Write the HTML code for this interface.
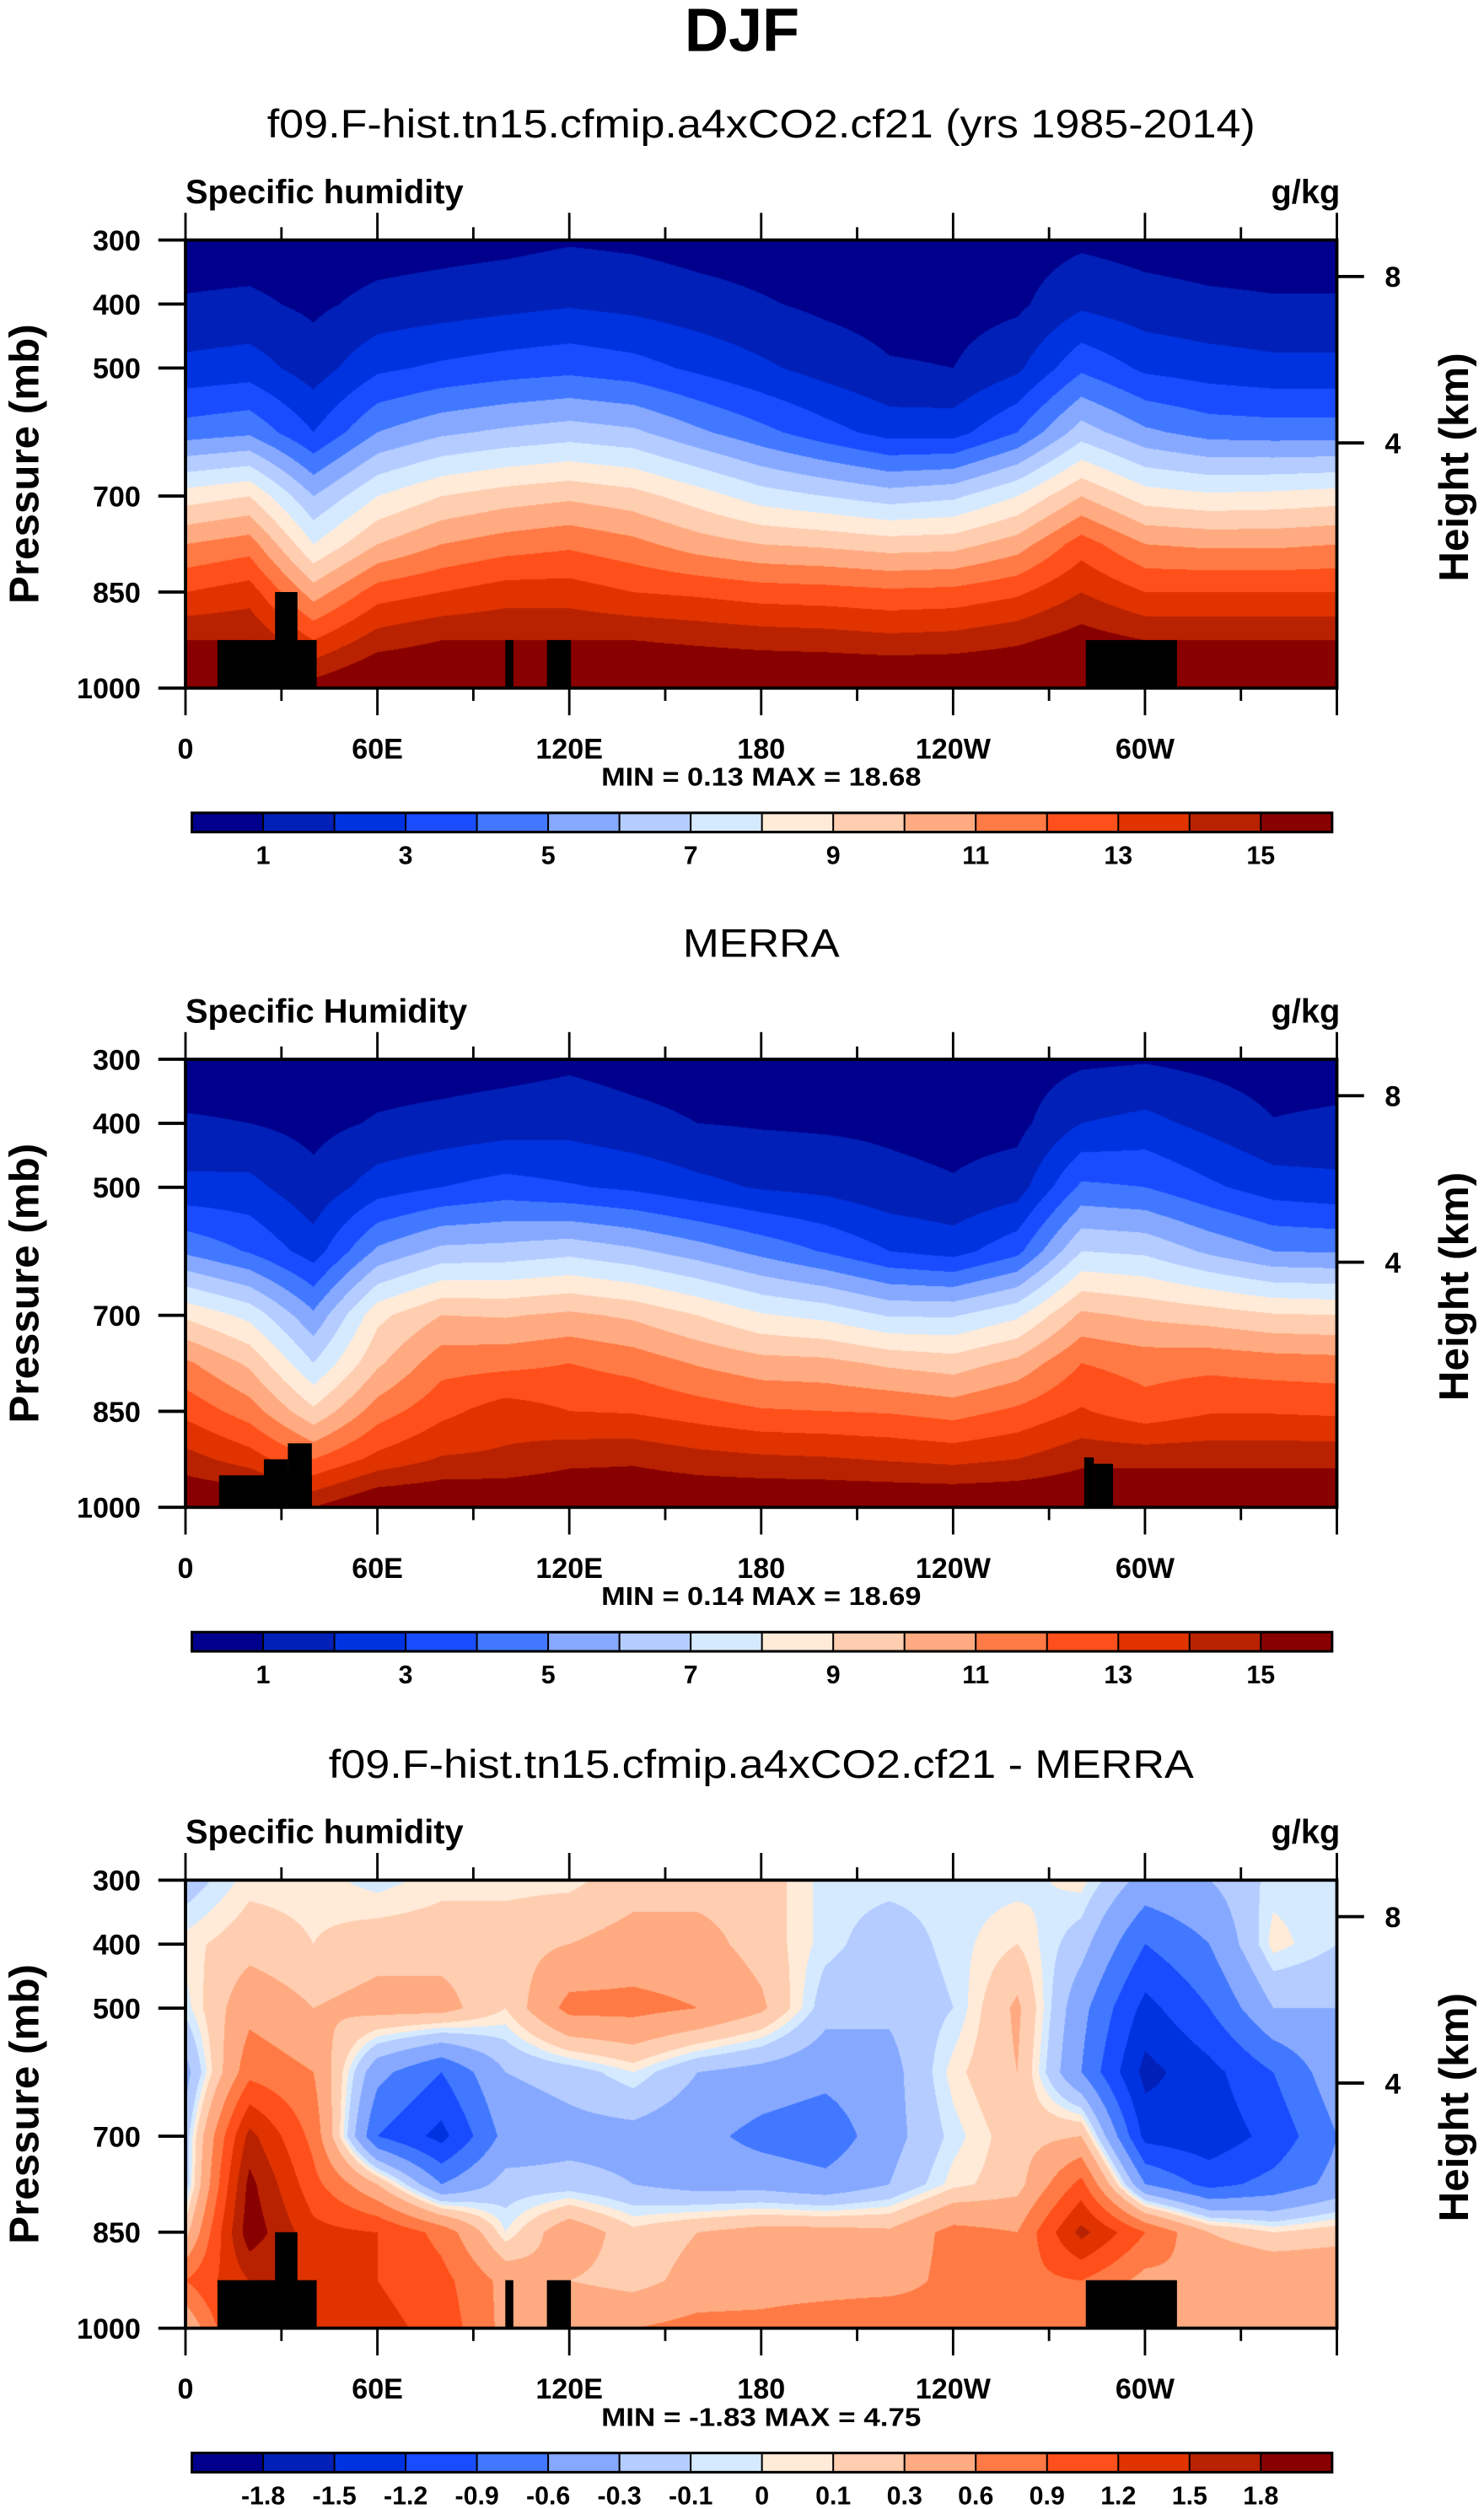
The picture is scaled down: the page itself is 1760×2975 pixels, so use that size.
<!DOCTYPE html>
<html><head><meta charset="utf-8"><style>
html,body{margin:0;padding:0;background:#fff;}
#wrap{position:relative;width:1760px;height:2975px;overflow:hidden;background:#fff;}
canvas{position:absolute;}
svg{position:absolute;left:0;top:0;}
text{font-family:"Liberation Sans",sans-serif;fill:#000;}
</style></head><body>
<div id="wrap">
<canvas id="c1"></canvas>
<canvas id="c2"></canvas>
<canvas id="c3"></canvas>
<svg id="svg" width="1760" height="2975" viewBox="0 0 928 1568" preserveAspectRatio="none">
<text x="464" y="32" text-anchor="middle" font-size="38" font-weight="bold">DJF</text>
</svg>
</div>
<script>
const SX=1760/928, SY=2975/1568;
const LON=[0,20,40,60,80,100,120,140,160,180,200,220,240,260,280,300,320,340,360];
const PLEV=[300,400,500,600,700,775,850,925,1000];
const LEV_Q=[1,2,3,4,5,6,7,8,9,10,11,12,13,14,15];
const LEV_D=[-1.8,-1.5,-1.2,-0.9,-0.6,-0.3,-0.1,0,0.1,0.3,0.6,0.9,1.2,1.5,1.8];
const LAB_Q=["1","3","5","7","9","11","13","15"];
const LAB_D=["-1.8","-1.5","-1.2","-0.9","-0.6","-0.3","-0.1","0","0.1","0.3","0.6","0.9","1.2","1.5","1.8"];
const COLORS=["#00008c","#0020b8","#0033e0","#1a4cff","#4178ff","#86a9ff","#b4ccff","#d6eaff","#ffebd8","#ffcdb0","#ffaa80","#ff7a45","#ff4f1a","#e03300","#b82200","#880000"];
const XTICK_LON=[0,60,120,180,240,300];
const XTICK_LAB=["0","60E","120E","180","120W","60W"];
const YTICK_P=[300,400,500,700,850,1000];
const HTICK_P=[357,617];
const HTICK_LAB=["8","4"];
// model field (rows = PLEV, cols = LON)
const Q1=[
[0.5,0.5,0.4,0.5,0.6,0.7,0.9,0.8,0.6,0.5,0.4,0.3,0.3,0.5,0.8,0.6,0.5,0.5,0.5],
[1.1,1.2,0.8,1.3,1.5,1.7,1.9,1.7,1.4,1.1,0.8,0.6,0.6,0.8,1.8,1.4,1.2,1.1,1.1],
[2.3,2.5,1.5,2.8,3.2,3.5,3.7,3.4,2.8,2.2,1.6,1.1,1.0,1.8,3.8,2.8,2.5,2.3,2.3],
[4.5,4.8,3.0,5.0,5.8,6.2,6.5,6.2,5.2,4.3,3.4,2.6,2.6,4.0,6.5,5.2,4.6,4.5,4.5],
[8.5,9.0,6.0,8.0,9.0,9.5,9.8,9.4,8.5,7.5,7.0,6.5,6.8,8.0,10.0,8.5,8.2,8.3,8.5],
[11.0,11.5,8.0,10.0,11.0,11.5,11.8,11.3,10.5,10.0,9.8,9.5,9.6,10.5,12.5,11.0,10.8,10.8,11.0],
[13.0,13.5,10.5,12.5,13.0,13.5,13.5,13.0,12.8,12.5,12.4,12.2,12.3,12.8,14.0,13.0,13.0,13.0,13.0],
[15.0,15.0,13.0,14.5,15.0,15.0,15.0,15.0,14.8,14.6,14.5,14.3,14.4,14.8,15.5,15.0,15.0,15.0,15.0],
[16.5,16.5,15.5,16.5,16.5,16.5,16.5,16.5,16.5,16.5,16.5,16.5,16.5,16.5,16.5,16.5,16.5,16.5,16.5]];
// MERRA field
const Q2=[
[0.5,0.5,0.4,0.5,0.5,0.6,0.8,0.6,0.5,0.4,0.4,0.35,0.35,0.5,0.8,0.9,0.7,0.5,0.5],
[1.1,1.0,0.7,1.1,1.3,1.5,1.6,1.3,1.0,0.9,0.85,0.8,0.65,0.7,2.0,2.3,1.7,1.05,1.2],
[2.3,2.3,1.3,2.5,3.0,3.4,3.1,2.8,2.3,1.9,1.7,1.3,1.1,1.5,4.2,4.0,3.2,2.5,2.3],
[4.8,3.9,2.5,5.2,6.3,6.4,6.7,6.2,5.5,4.7,3.9,3.0,2.6,3.7,7.0,6.8,5.8,5.0,4.9],
[8.8,7.7,5.2,8.7,10.0,9.9,10.2,9.8,9.0,8.1,7.7,6.9,6.9,7.8,10.2,9.8,9.5,9.1,9.0],
[11.2,9.8,7.0,9.8,11.6,11.7,12.0,11.6,10.9,10.4,10.3,9.8,9.5,10.3,12.0,11.6,11.7,11.5,11.4],
[12.7,11.5,9.2,11.5,12.7,13.5,13.0,12.9,12.5,12.1,12.0,11.9,11.6,12.2,13.1,12.4,12.9,12.9,12.8],
[14.4,13.5,12.0,13.3,14.1,14.2,14.7,14.8,14.4,14.2,14.1,13.9,13.7,14.0,14.7,14.7,14.7,14.7,14.7],
[16.2,16.2,15.0,16.2,16.2,16.2,16.2,16.2,16.2,16.2,16.2,16.2,16.2,16.2,16.2,16.2,16.2,16.2,16.2]];
// difference field
const D3=[
[-0.2,0.05,0.05,-0.05,0.05,0.05,0.05,0.2,0.2,0.2,-0.05,-0.05,-0.05,-0.05,0.05,-0.4,-0.3,-0.05,-0.05],
[0.05,0.2,0.1,0.2,0.2,0.2,0.3,0.4,0.4,0.2,-0.05,-0.2,-0.05,0.1,-0.2,-0.9,-0.6,0.05,-0.1],
[-0.05,0.5,0.3,0.4,0.4,0.1,0.7,0.7,0.6,0.35,-0.2,-0.25,-0.1,0.35,-0.5,-1.3,-0.9,-0.3,-0.3],
[-0.4,0.8,0.6,-0.5,-0.9,-0.3,-0.2,0.0,-0.3,-0.4,-0.5,-0.4,0.05,0.3,-0.6,-1.6,-1.3,-0.9,-0.4],
[-0.2,1.6,0.8,-0.9,-1.3,-0.5,-0.4,-0.4,-0.5,-0.7,-0.8,-0.4,-0.05,0.2,0.3,-1.3,-1.4,-1.1,-0.6],
[-0.2,1.9,1.0,0.3,-0.6,-0.2,-0.2,-0.3,-0.4,-0.4,-0.5,-0.3,0.05,0.2,1.0,-0.6,-1.0,-0.8,-0.5],
[0.2,2.0,1.3,1.2,0.8,0.0,0.5,0.15,0.3,0.4,0.4,0.35,0.7,0.6,1.6,0.9,0.3,0.1,0.2],
[0.9,1.5,1.5,1.2,1.0,0.5,0.3,0.2,0.4,0.45,0.45,0.45,0.7,0.8,0.9,0.5,0.6,0.6,0.55],
[0.3,1.5,1.5,1.3,1.1,0.5,0.6,0.6,0.7,0.7,0.8,0.9,0.7,0.7,0.8,0.5,0.5,0.5,0.4]];
// topography blocks [lon0, lon1, topPressure]
const TOPO1=[[10,41,925],[28,35,850],[100,102.5,925],[113,120.5,925],[281.5,310,925]];
const TOPO2=[[10.5,39.5,950],[24.5,32,925],[32,39.5,900],[281,284,922],[284,290,932]];
const TOPO3=[[10,41,925],[28,35,850],[100,102.5,925],[113,120.5,925],[281.5,310,925]];

const PANELS=[
 {cid:"c1",grid:Q1,lev:LEV_Q,lab:LAB_Q,labIdx:[0,2,4,6,8,10,12,14],topo:TOPO1,off:0,sub:"f09.F-hist.tn15.cfmip.a4xCO2.cf21 (yrs 1985-2014)",subW:618,left:"Specific humidity",mm:"MIN =   0.13  MAX =  18.68",name:"model"},
 {cid:"c2",grid:Q2,lev:LEV_Q,lab:LAB_Q,labIdx:[0,2,4,6,8,10,12,14],topo:TOPO2,off:512,sub:"MERRA",subW:98,left:"Specific Humidity",mm:"MIN =   0.14  MAX =  18.69",name:"merra"},
 {cid:"c3",grid:D3,lev:LEV_D,lab:LAB_D,labIdx:[0,1,2,3,4,5,6,7,8,9,10,11,12,13,14],topo:TOPO3,off:1025,sub:"f09.F-hist.tn15.cfmip.a4xCO2.cf21 - MERRA",subW:541,left:"Specific humidity",mm:"MIN =  -1.83  MAX =   4.75",name:"difference"}];

const PX0=116,PX1=836,PH=280,PY0=150;
const svg=document.getElementById('svg');
const NS="http://www.w3.org/2000/svg";
function mk(tag,attrs,parent){const e=document.createElementNS(NS,tag);for(const k in attrs)e.setAttribute(k,attrs[k]);(parent||svg).appendChild(e);return e;}
function xOf(lon){return PX0+(lon/360)*(PX1-PX0);}
function yOf(p,off){return PY0+off+((p-300)/700)*PH;}
function sample(G,lon,p){
  let i=Math.min(LON.length-2,Math.max(0,Math.floor(lon/20)));
  let tx=(lon-LON[i])/(LON[i+1]-LON[i]);
  let j=0;while(j<PLEV.length-2&&p>PLEV[j+1])j++;
  let ty=(p-PLEV[j])/(PLEV[j+1]-PLEV[j]);
  const a=G[j][i]*(1-tx)+G[j][i+1]*tx, b=G[j+1][i]*(1-tx)+G[j+1][i+1]*tx;
  return a*(1-ty)+b*ty;
}
function hex(h){return [parseInt(h.substr(1,2),16),parseInt(h.substr(3,2),16),parseInt(h.substr(5,2),16)];}
const RGB=COLORS.map(hex);

PANELS.forEach((P,pi)=>{
  const cv=document.getElementById(P.cid);
  const L=Math.round(PX0*SX),T=Math.round((PY0+P.off)*SY);
  const W=Math.round(PX1*SX)-L,H=Math.round((PY0+P.off+PH)*SY)-T;
  cv.width=W;cv.height=H;cv.style.left=L+"px";cv.style.top=T+"px";cv.style.width=W+"px";cv.style.height=H+"px";
  const ctx=cv.getContext('2d');const img=ctx.createImageData(W,H);
  for(let y=0;y<H;y++){const p=300+700*(y+0.5)/H;
    for(let x=0;x<W;x++){const lon=360*(x+0.5)/W;const v=sample(P.grid,lon,p);
      let k=0;while(k<P.lev.length&&v>=P.lev[k])k++;
      const c=RGB[k];const o=(y*W+x)*4;img.data[o]=c[0];img.data[o+1]=c[1];img.data[o+2]=c[2];img.data[o+3]=255;}}
  ctx.putImageData(img,0,0);

  const off=P.off;
  const g=mk('g',{});
  
  
  P.topo.forEach(t=>{const r=mk('rect',{x:xOf(t[0]),y:yOf(t[2],off),width:xOf(t[1])-xOf(t[0]),height:yOf(1000,off)-yOf(t[2],off),fill:'#000'},g);
    
    });
  const fr=mk('rect',{x:PX0,y:PY0+off,width:PX1-PX0,height:PH,fill:'none',stroke:'#000','stroke-width':2},g);
  
  
  for(let lon=0;lon<=360;lon+=30){const major=lon%60===0;const len=major?17:8;const x=xOf(lon);
    mk('line',{x1:x,x2:x,y1:PY0+off+PH,y2:PY0+off+PH+len,stroke:'#000','stroke-width':1.5},g);
    mk('line',{x1:x,x2:x,y1:PY0+off,y2:PY0+off-len,stroke:'#000','stroke-width':1.5},g);}
  XTICK_LON.forEach((lon,i)=>{const t=mk('text',{x:xOf(lon),y:PY0+off+PH+44,'text-anchor':'middle','font-size':18,'font-weight':'bold'},g);t.textContent=XTICK_LAB[i];
    
    });
  YTICK_P.forEach(p=>{const y=yOf(p,off);mk('line',{x1:PX0-17,x2:PX0,y1:y,y2:y,stroke:'#000','stroke-width':2},g);
    const t=mk('text',{x:88,y:y+6.5,'text-anchor':'end','font-size':18,'font-weight':'bold'},g);t.textContent=String(p);
    
    });
  HTICK_P.forEach((p,i)=>{const y=yOf(p,off);mk('line',{x1:PX1,x2:PX1+17,y1:y,y2:y,stroke:'#000','stroke-width':2},g);
    const t=mk('text',{x:866,y:y+6.5,'font-size':18,'font-weight':'bold'},g);t.textContent=HTICK_LAB[i];
    
    });
  let t=mk('text',{x:476,y:86+off,'text-anchor':'middle','font-size':25,textLength:P.subW,lengthAdjust:'spacingAndGlyphs'},g);t.textContent=P.sub;
  
  
  t=mk('text',{x:116,y:127+off,'font-size':21,'font-weight':'bold'},g);t.textContent=P.left;
  
  
  t=mk('text',{x:838,y:127+off,'text-anchor':'end','font-size':21,'font-weight':'bold'},g);t.textContent="g/kg";
  
  
  t=mk('text',{x:0,y:0,'text-anchor':'middle','font-size':26,'font-weight':'bold',transform:`translate(24,${290+off}) rotate(-90)`},g);t.textContent="Pressure (mb)";
  
  
  t=mk('text',{x:0,y:0,'text-anchor':'middle','font-size':26,'font-weight':'bold',transform:`translate(918,${292+off}) rotate(-90)`},g);t.textContent="Height (km)";
  
  
  t=mk('text',{x:476,y:491+off,'text-anchor':'middle','font-size':16,'font-weight':'bold',textLength:200,lengthAdjust:'spacingAndGlyphs','xml:space':'preserve'},g);t.textContent=P.mm;
  
  
  const CB0=120,CB1=833,CBY=508+off,CBH=12,bw=(CB1-CB0)/COLORS.length;
  COLORS.forEach((c,k)=>{const r=mk('rect',{x:CB0+k*bw,y:CBY,width:bw,height:CBH,fill:c,stroke:'#000','stroke-width':1},g);
    
    });
  mk('rect',{x:CB0,y:CBY,width:CB1-CB0,height:CBH,fill:'none',stroke:'#000','stroke-width':1.6},g);
  P.labIdx.forEach((b,i)=>{const tt=mk('text',{x:CB0+(b+1)*bw,y:CBY+32,'text-anchor':'middle','font-size':16,'font-weight':'bold'},g);tt.textContent=P.lab[i];
    
    });
});
</script>
</body></html>
